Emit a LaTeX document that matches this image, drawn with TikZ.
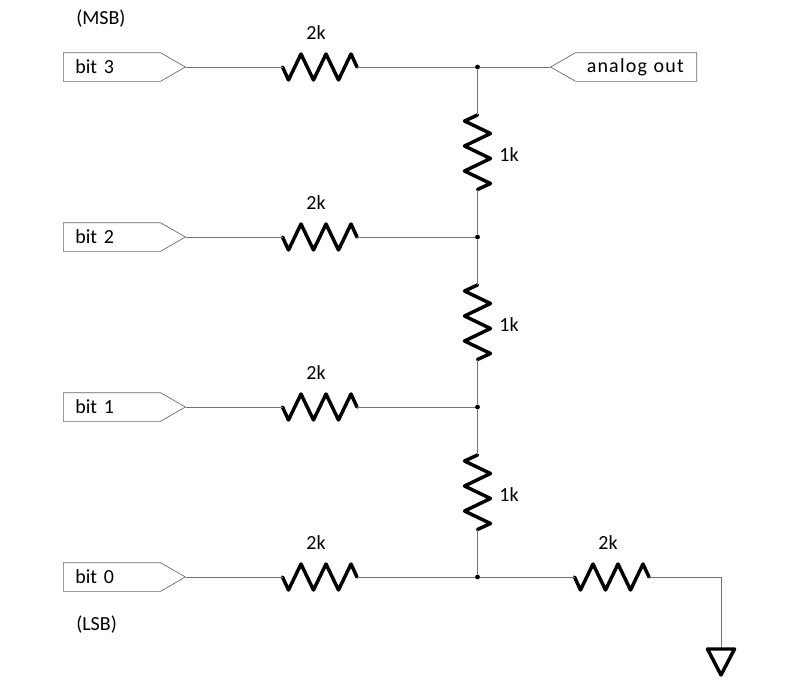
\documentclass[tikz,border=0pt]{standalone}
\usepackage{fontspec}
\setmainfont{Carlito}
\newfontfamily\widefont[LetterSpace=6]{Carlito}
\usetikzlibrary{shapes.symbols}
\tikzset{
	wire/.style={draw=black!55, line width=0.5pt},
	port/.style={draw=black!60, line width=0.5pt, shape=signal, signal pointer angle=60, minimum height=21.5pt, inner ysep=0pt, inner xsep=0pt, font=\fontsize{15}{15}\selectfont},
	junction/.style={circle, fill=black, inner sep=0pt, minimum size=3.6pt},
	label/.style={font=\fontsize{15}{15}\selectfont},
	res/.pic={
		\draw[black, line width=2.6pt, line join=round, line cap=round] (0,0) coordinate (-a) -- (6,13) -- (18.5,-13) -- (31,13) -- (43.5,-13) -- (56,13) -- (68.5,-13) -- (74.5,0) coordinate (-b);
	}
}
\begin{document}
\begin{tikzpicture}[x=0.75pt, y=-0.75pt]
	\useasboundingbox (0,0) rectangle (806,689);
	% inputs, top to bottom
	\foreach \i/\y in {3/67, 2/237, 1/407, 0/577} {
		\node[port, signal to=east, anchor=east, minimum width=91.5pt, text width=72pt, align=left] (bit\i) at (186,\y) {\hspace*{8.6pt}bit \i};
		\pic (r\i) at (282.5,\y) {res};
		\node[junction] (j\i) at (477.5,\y) {};
		\node[label] (lab\i) at (316,\y-34) {2k};
		\draw[wire] (bit\i.east) -- (r\i-a);
		\draw[wire] (r\i-b) -- (j\i);
	}
	% ladder
	\foreach \i/\k/\y in {3/2/115, 2/1/285, 1/0/455} {
		\pic[rotate=-90] (v\i) at (477.5,\y) {res};
		\node[label] (vlab\i) at (509,\y+40) {1k};
		\draw[wire] (j\i) -- (v\i-a);
		\draw[wire] (v\i-b) -- (j\k);
	}
	% output
	\node[port, signal to=west, anchor=west, minimum width=109.5pt, text width=90pt, align=left] (out) at (550,67) {\hspace*{8pt}{\widefont analog out}};
	\draw[wire] (j3) -- (out.west);
	% termination
	\pic (rt) at (574.5,577) {res};
	\node[label] (labt) at (608,543) {2k};
	\coordinate (bend) at (721,577);
	\coordinate (gnd) at (721,649);
	\draw[wire] (j0) -- (rt-a);
	\draw[wire] (rt-b) -- (bend) -- (gnd);
	\draw[black, line width=2.6pt, line join=round] (707.5,649) -- (734.5,649) -- (721,675) -- cycle;
	% ends
	\node[label, anchor=west, inner sep=0pt] (msb) at (76,19) {(MSB)};
	\node[label, anchor=west, inner sep=0pt] (lsb) at (76,625) {(LSB)};
\end{tikzpicture}
\end{document}
